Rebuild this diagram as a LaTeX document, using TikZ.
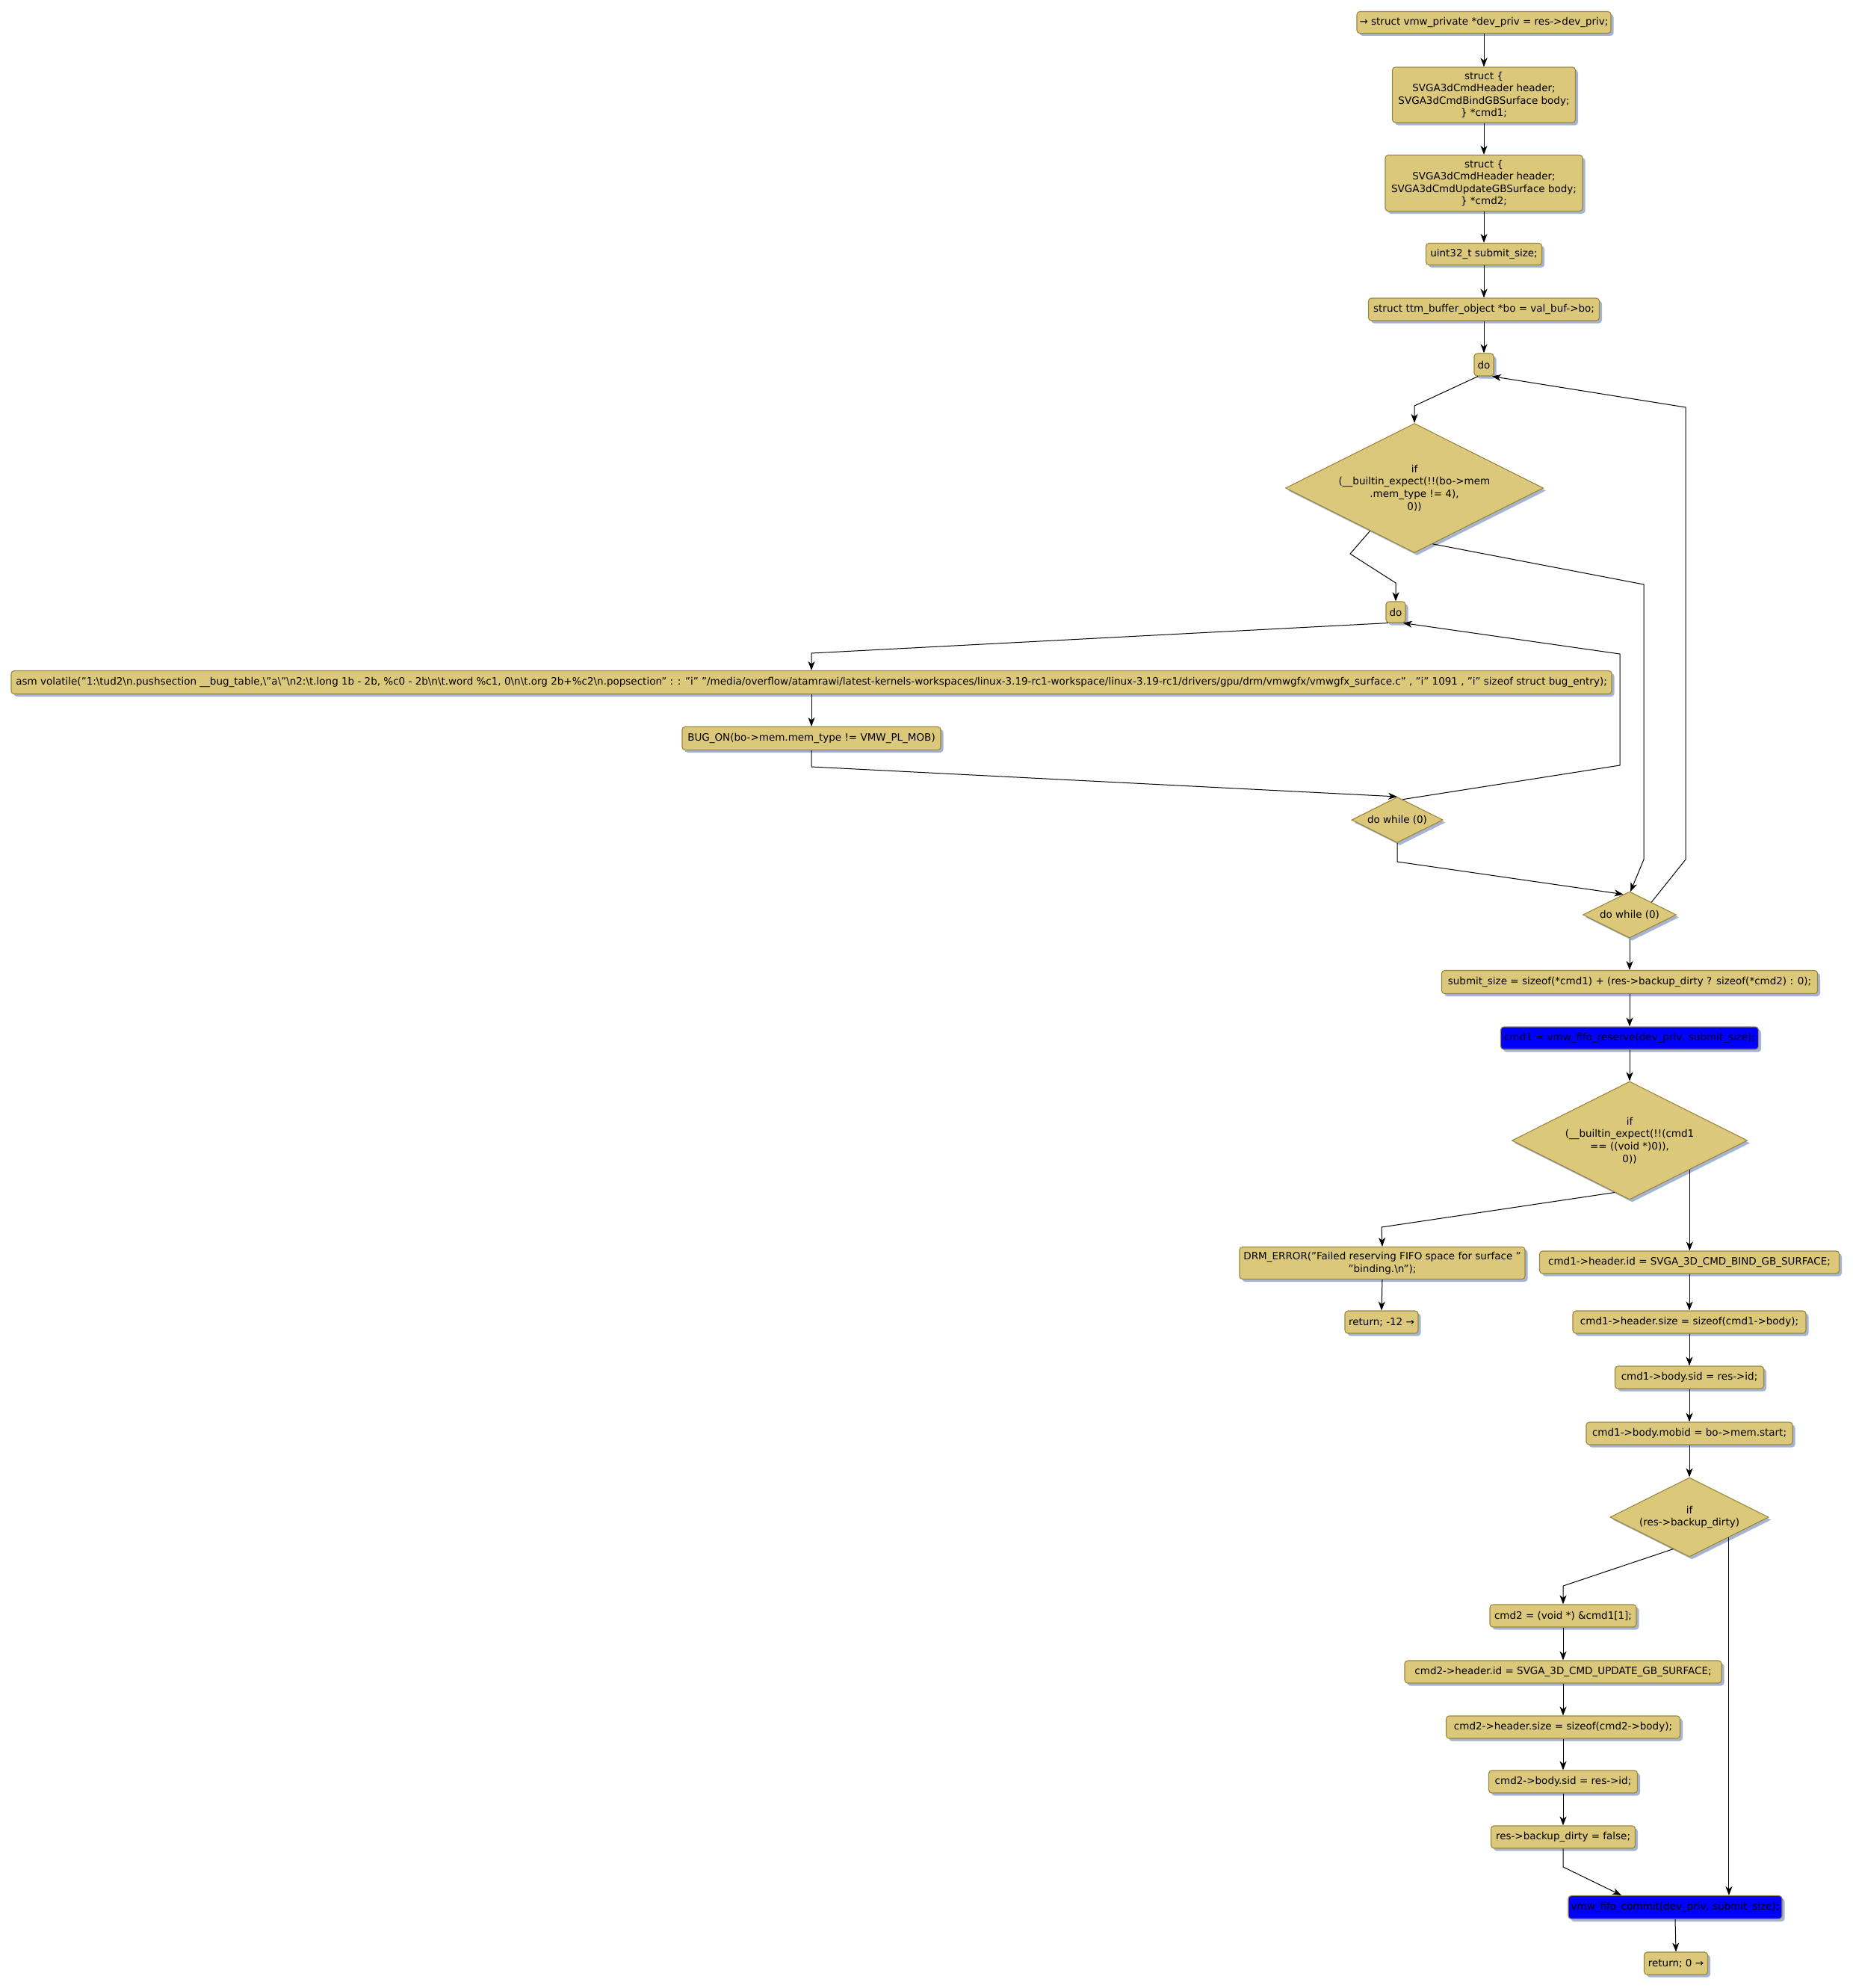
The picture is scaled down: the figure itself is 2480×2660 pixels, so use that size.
\documentclass[tikz,border=0pt]{standalone}
\usepackage{fontspec}
\setmainfont{DejaVu Sans}
\usetikzlibrary{shapes.geometric,shadows,arrows.meta}
\definecolor{tanc}{RGB}{219,200,123}
\definecolor{bordc}{RGB}{155,135,60}
\definecolor{shadc}{RGB}{165,180,210}
\newcommand{\fs}{\fontsize{13.5}{16.6}\selectfont}
\newcommand{\bs}{\textbackslash}
\begin{document}
\begin{tikzpicture}[x=1pt,y=-1pt,
  box/.style={rectangle, rounded corners=4pt, draw=bordc, line width=1.1pt, fill=tanc,
    inner sep=0pt, align=center, font=\fs,
    drop shadow={shadow xshift=3.5pt, shadow yshift=-3.5pt, fill=shadc, opacity=1}},
  bluebox/.style={box, fill=blue},
  dia/.style={diamond, draw=bordc, line width=1.1pt, fill=tanc, inner sep=0pt,
    drop shadow={shadow xshift=3.5pt, shadow yshift=-3.5pt, fill=shadc, opacity=1}},
  diatext/.style={align=center, font=\fs, inner sep=0pt},
  arr/.style={-{Stealth[length=12pt,width=9pt,inset=3.5pt]}, line width=1pt, black}]
\useasboundingbox (0,0) rectangle (2480,2660);
\fill[white] (0,0) rectangle (2480,2660);

% nodes
\node[box, minimum width=340, minimum height=29] (n1) at (1986,30) {→ struct vmw\_private *dev\_priv = res->dev\_priv;};
\node[box, minimum width=245, minimum height=74] (n2) at (1986,127) {struct \{\\SVGA3dCmdHeader header;\\SVGA3dCmdBindGBSurface body;\\\} *cmd1;};
\node[box, minimum width=264, minimum height=75] (n3) at (1986,245) {struct \{\\SVGA3dCmdHeader header;\\SVGA3dCmdUpdateGBSurface body;\\\} *cmd2;};
\node[box, minimum width=155, minimum height=29] (n4) at (1986,340) {uint32\_t submit\_size;};
\node[box, minimum width=309, minimum height=30] (n5) at (1986,414) {struct ttm\_buffer\_object *bo = val\_buf->bo;};
\node[box, minimum width=26, minimum height=30] (do1) at (1986,488) {do};
\node[dia, minimum width=345, minimum height=173] (d1) at (1893,653) {};
\node[diatext] (d1t) at (d1.center) {if\\(\_\_builtin\_expect(!!(bo->mem\\.mem\_type != 4),\\0))};
\node[box, minimum width=26, minimum height=28] (do2) at (1868,819) {do};
\node[box, minimum width=2142, minimum height=31] (asm) at (1086,913) {asm volatile("1:\bs tud2\bs n.pushsection \_\_bug\_table,\bs"a\bs"\bs n2:\bs t.long 1b - 2b, \%c0 - 2b\bs n\bs t.word \%c1, 0\bs n\bs t.org 2b+\%c2\bs n.popsection" : : "i" "/media/overflow/atamrawi/latest-kernels-workspaces/linux-3.19-rc1-workspace/linux-3.19-rc1/drivers/gpu/drm/vmwgfx/vmwgfx\_surface.c" , "i" 1091 , "i" sizeof struct bug\_entry);};
\node[box, minimum width=346, minimum height=31] (bug) at (1086,988) {BUG\_ON(bo->mem.mem\_type != VMW\_PL\_MOB)};
\node[dia, minimum width=122, minimum height=61] (dw1) at (1870,1097) {};
\node[diatext] (dw1t) at (dw1.center) {do while (0)};
\node[dia, minimum width=125, minimum height=62] (dw2) at (2181,1224) {};
\node[diatext] (dw2t) at (dw2.center) {do while (0)};
\node[box, minimum width=503, minimum height=31] (sub) at (2181,1314) {submit\_size = sizeof(*cmd1) + (res->backup\_dirty ? sizeof(*cmd2) : 0);};
\node[bluebox, minimum width=345, minimum height=30] (res) at (2181,1389) {cmd1 = vmw\_fifo\_reserve(dev\_priv, submit\_size);};
\node[dia, minimum width=315, minimum height=158] (d3) at (2181,1526) {};
\node[diatext] (d3t) at (d3.center) {if\\(\_\_builtin\_expect(!!(cmd1\\== ((void *)0)),\\0))};
\node[box, minimum width=382, minimum height=43] (drm) at (1850,1690) {DRM\_ERROR("Failed reserving FIFO space for surface "\\"binding.\bs n");};
\node[box, minimum width=98, minimum height=30] (r12) at (1849,1769) {return; -12 →};
\node[box, minimum width=401, minimum height=30] (hid) at (2261,1689) {cmd1->header.id = SVGA\_3D\_CMD\_BIND\_GB\_SURFACE;};
\node[box, minimum width=312, minimum height=30] (hsz) at (2261,1769) {cmd1->header.size = sizeof(cmd1->body);};
\node[box, minimum width=199, minimum height=30] (sid) at (2261,1843) {cmd1->body.sid = res->id;};
\node[box, minimum width=276, minimum height=30] (mob) at (2261,1918) {cmd1->body.mobid = bo->mem.start;};
\node[dia, minimum width=212, minimum height=106] (d4) at (2261,2030) {};
\node[diatext] (d4t) at (d4.center) {if\\(res->backup\_dirty)};
\node[box, minimum width=196, minimum height=30] (c2a) at (2092,2162) {cmd2 = (void *) \&cmd1[1];};
\node[box, minimum width=424, minimum height=30] (c2b) at (2092,2237) {cmd2->header.id = SVGA\_3D\_CMD\_UPDATE\_GB\_SURFACE;};
\node[box, minimum width=313, minimum height=30] (c2c) at (2092,2311) {cmd2->header.size = sizeof(cmd2->body);};
\node[box, minimum width=199, minimum height=30] (c2d) at (2092,2384) {cmd2->body.sid = res->id;};
\node[box, minimum width=193, minimum height=30] (c2e) at (2092,2458) {res->backup\_dirty = false;};
\node[bluebox, minimum width=286, minimum height=31] (com) at (2242,2552) {vmw\_fifo\_commit(dev\_priv, submit\_size);};
\node[box, minimum width=85, minimum height=30] (r0) at (2243,2627) {return; 0 →};

% edges
\draw[arr] (n1.south) -- (n2.north);
\draw[arr] (n2.south) -- (n3.north);
\draw[arr] (n3.south) -- (n4.north);
\draw[arr] (n4.south) -- (n5.north);
\draw[arr] (n5.south) -- (do1.north);
\draw[arr] (do1.-117) -- (1893,543) -- (d1.north);
\draw[arr] (d1.-136) -- (1807,741) -- (1868,780) -- (do2.north);
\draw[arr] (do2.-124) -- (1086,874) -- (asm.north);
\draw[arr] (asm.south) -- (bug.north);
\draw[arr] (bug.south) -- (1086,1026) -- (dw1.north);
\draw[arr] (dw1.75) -- (2168,1024) -- (2168,875) -- (do2.-56);
\draw[arr] (dw1.south) -- (1870,1153) -- (dw2.107);
\draw[arr] (d1.-72) -- (2200,782) -- (2200,1150) -- (dw2.88);
\draw[arr] (dw2.30) -- (2256,1150) -- (2256,545) -- (do1.-55);
\draw[arr] (dw2.south) -- (sub.north);
\draw[arr] (sub.south) -- (res.north);
\draw[arr] (res.south) -- (d3.north);
\draw[arr] (d3.-106) -- (1849,1642) -- (drm.north);
\draw[arr] (drm.south) -- (r12.north);
\draw[arr] (d3.-26) -- (d3.-26 |- hid.north);
\draw[arr] (hid.south) -- (hsz.north);
\draw[arr] (hsz.south) -- (sid.north);
\draw[arr] (sid.south) -- (mob.north);
\draw[arr] (mob.south) -- (d4.north);
\draw[arr] (d4.-117) -- (2092,2122) -- (c2a.north);
\draw[arr] (d4.-27) -- (d4.-27 |- com.north);
\draw[arr] (c2a.south) -- (c2b.north);
\draw[arr] (c2b.south) -- (c2c.north);
\draw[arr] (c2c.south) -- (c2d.north);
\draw[arr] (c2d.south) -- (c2e.north);
\draw[arr] (c2e.south) -- (2092,2498) -- ([xshift=-72pt]com.north);
\draw[arr] (com.south) -- (r0.north);
\end{tikzpicture}
\end{document}
